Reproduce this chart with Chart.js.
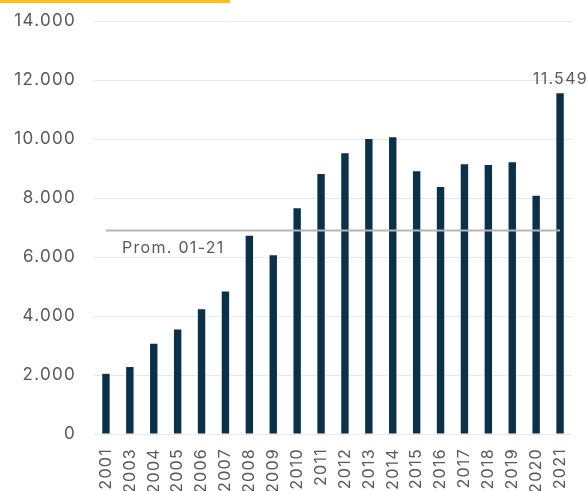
<!DOCTYPE html>
<html>
<head>
<meta charset="utf-8">
<script src="https://cdn.jsdelivr.net/npm/chart.js@4.4.0/dist/chart.umd.min.js"></script>
<style>
  html, body { margin: 0; padding: 0; background: #fff; }
  #wrap { position: relative; width: 587px; height: 491px; }
  #accent { position: absolute; left: 0; top: 0; width: 230px; height: 3px; background: #ffc20e; }
</style>
</head>
<body>
<div id="wrap">
  <canvas id="chart" width="587" height="491"></canvas>
  <div id="accent"></div>
</div>
<script>
const years = ['2001', '2003', '2004', '2005', '2006', '2007', '2008', '2009', '2010', '2011',
  '2012', '2013', '2014', '2015', '2016', '2017', '2018', '2019', '2020', '2021'];
const values = [2040, 2270, 3060, 3540, 4230, 4830, 6720, 6060, 7650, 8810,
  9520, 10000, 10060, 8910, 8370, 9140, 9120, 9210, 8080, 11549];
const avgValue = 6900;
const avgLabel = 'Prom. 01-21';
const yTicks = [0, 2000, 4000, 6000, 8000, 10000, 12000, 14000];

const grey = '#595959';
const family = 'Inter, Roboto, sans-serif';
const fmt = v => v === 0 ? '0' : String(v).replace(/\B(?=(\d{3})+(?!\d))/g, '.');

// wider tracking like the original typeface
const spacingPlugin = {
  id: 'spacing',
  beforeUpdate(chart) { chart.ctx.letterSpacing = '1.3px'; },
  beforeDraw(chart) { chart.ctx.letterSpacing = '1.3px'; }
};

// labels: last bar value + average caption
const labelsPlugin = {
  id: 'labels',
  afterDatasetsDraw(chart) {
    const ctx = chart.ctx;
    const x = chart.scales.x, y = chart.scales.y;
    ctx.save();
    ctx.fillStyle = grey;
    ctx.font = '16px ' + family;
    const last = values.length - 1;
    ctx.textAlign = 'right';
    ctx.textBaseline = 'middle';
    ctx.fillText(fmt(values[last]), chart.width + 1, y.getPixelForValue(values[last]) - 14);
    ctx.textAlign = 'left';
    ctx.fillText(avgLabel, x.getPixelForValue(0) + 16, y.getPixelForValue(avgValue) + 18);
    ctx.restore();
  }
};

new Chart(document.getElementById('chart'), {
  data: {
    labels: years,
    datasets: [{
      type: 'line',
      data: years.map(() => avgValue),
      borderColor: '#b5b5b5',
      borderWidth: 2,
      pointRadius: 0,
      order: 0
    }, {
      type: 'bar',
      data: values,
      backgroundColor: '#0b3049',
      barPercentage: 0.62,
      categoryPercentage: 0.5,
      order: 1
    }]
  },
  options: {
    responsive: false,
    animation: false,
    layout: { padding: { top: 21, right: 15, bottom: 0, left: 0 } },
    plugins: { legend: { display: false }, tooltip: { enabled: false } },
    scales: {
      x: {
        grid: { display: false },
        border: { display: false },
        ticks: {
          color: grey, font: { family: family, size: 16 },
          maxRotation: 90, minRotation: 90, padding: 6, autoSkip: false
        },
        afterFit: s => { s.height = 57; }
      },
      y: {
        min: 0, max: 14000,
        afterBuildTicks: s => { s.ticks = yTicks.map(v => ({ value: v })); },
        grid: { color: '#e8e8e8', lineWidth: 1, drawTicks: false },
        border: { display: false },
        ticks: {
          color: grey, font: { family: family, size: 17 },
          padding: 18, callback: v => fmt(v)
        },
        afterFit: s => { s.width = 94; s.paddingTop = 0; s.paddingBottom = 0; }
      }
    }
  },
  plugins: [spacingPlugin, labelsPlugin]
});
</script>
</body>
</html>
